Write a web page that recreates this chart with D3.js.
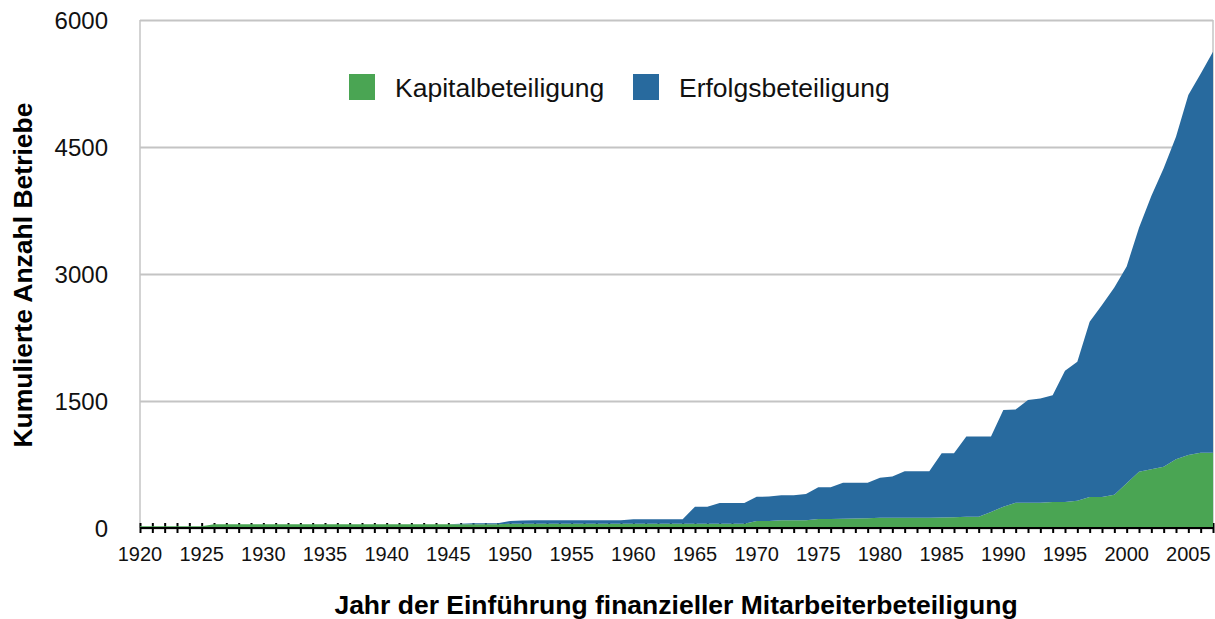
<!DOCTYPE html>
<html>
<head>
<meta charset="utf-8">
<script src="https://cdn.jsdelivr.net/npm/d3@7"></script>
<style>
  body { margin: 0; background: #fff; }
  svg text { font-family: "Liberation Sans", Helvetica, Arial, sans-serif; }
</style>
</head>
<body>
<div id="chart"></div>
<script>
// Kumulierte Anzahl Betriebe mit finanzieller Mitarbeiterbeteiligung, 1920-2007

const years = [
    1920, 1921, 1922, 1923, 1924, 1925, 1926, 1927, 1928, 1929,
    1930, 1931, 1932, 1933, 1934, 1935, 1936, 1937, 1938, 1939,
    1940, 1941, 1942, 1943, 1944, 1945, 1946, 1947, 1948, 1949,
    1950, 1951, 1952, 1953, 1954, 1955, 1956, 1957, 1958, 1959,
    1960, 1961, 1962, 1963, 1964, 1965, 1966, 1967, 1968, 1969,
    1970, 1971, 1972, 1973, 1974, 1975, 1976, 1977, 1978, 1979,
    1980, 1981, 1982, 1983, 1984, 1985, 1986, 1987, 1988, 1989,
    1990, 1991, 1992, 1993, 1994, 1995, 1996, 1997, 1998, 1999,
    2000, 2001, 2002, 2003, 2004, 2005, 2006, 2007
];

// Kapitalbeteiligung (green, bottom layer)
const kapital = [
    20, 20, 20, 20, 20, 20, 45, 45, 45, 45,
    45, 45, 45, 45, 45, 45, 45, 45, 45, 45,
    45, 45, 45, 45, 45, 45, 45, 45, 45, 45,
    50, 50, 50, 50, 50, 50, 50, 50, 50, 50,
    50, 50, 50, 50, 50, 50, 50, 50, 50, 50,
    83, 83, 91, 91, 93, 106, 106, 110, 112, 114,
    120, 122, 122, 122, 122, 125, 128, 133, 133, 190,
    252, 299, 299, 299, 307, 307, 323, 366, 366, 393,
    528, 665, 693, 724, 811, 862, 889, 889
];

// Erfolgsbeteiligung (blue, stacked on top)
const erfolg = [
    0, 0, 0, 0, 0, 0, 0, 0, 0, 0,
    0, 0, 0, 0, 0, 0, 0, 0, 0, 0,
    0, 0, 0, 0, 0, 0, 5, 10, 10, 10,
    32, 38, 42, 42, 42, 42, 42, 42, 42, 42,
    54, 54, 54, 54, 54, 202, 202, 246, 246, 246,
    285, 289, 295, 297, 309, 376, 376, 423, 421, 419,
    474, 486, 549, 549, 549, 757, 754, 949, 949, 892,
    1141, 1102, 1213, 1230, 1260, 1551, 1641, 2071, 2268, 2447,
    2562, 2880, 3227, 3524, 3810, 4252, 4476, 4736
];

const seriesNames = ['Kapitalbeteiligung', 'Erfolgsbeteiligung'];
const seriesColors = ['#4aa553', '#286a9e'];

const yTicks = [0, 1500, 3000, 4500, 6000];
const xLabelYears = [1920, 1925, 1930, 1935, 1940, 1945, 1950, 1955, 1960, 1965,
    1970, 1975, 1980, 1985, 1990, 1995, 2000, 2005];

const width = 1215;
const height = 619;
const margin = { left: 140, right: 2, top: 20, bottom: 91 };
const plotW = width - margin.left - margin.right;
const plotH = height - margin.top - margin.bottom;

// Build rows for d3.stack
const rows = years.map((year, i) => ({
    year: year,
    Kapitalbeteiligung: kapital[i],
    Erfolgsbeteiligung: erfolg[i]
}));

const svg = d3.select('#chart')
    .append('svg')
    .attr('width', width)
    .attr('height', height);

const g = svg.append('g')
    .attr('transform', `translate(${margin.left},${margin.top})`);

const xScale = d3.scaleLinear()
    .domain([years[0], years[years.length - 1]])
    .range([0, plotW]);

const yScale = d3.scaleLinear()
    .domain([0, 6000])
    .range([plotH, 0]);

// Gridlines (horizontal) via left axis
const yGrid = g.append('g')
    .attr('class', 'y-grid')
    .call(d3.axisLeft(yScale).tickValues(yTicks).tickSize(-plotW).tickFormat(''));
yGrid.select('.domain').remove();
yGrid.selectAll('line')
    .attr('stroke', '#c4c4c4')
    .attr('stroke-width', 2);

// Frame lines left / right
g.append('line')
    .attr('x1', 0).attr('x2', 0)
    .attr('y1', 0).attr('y2', plotH)
    .attr('stroke', '#c4c4c4')
    .attr('stroke-width', 1.5);
g.append('line')
    .attr('x1', plotW).attr('x2', plotW)
    .attr('y1', 0).attr('y2', plotH)
    .attr('stroke', '#c4c4c4')
    .attr('stroke-width', 1.5);

// Year ticks (drawn under the areas)
const xAxis = g.append('g')
    .attr('class', 'x-axis')
    .attr('transform', `translate(0,${plotH})`)
    .call(d3.axisBottom(xScale)
        .tickValues(years)
        .tickSizeInner(5)
        .tickSizeOuter(0)
        .tickFormat(''));
xAxis.select('.domain').remove();
xAxis.selectAll('.tick line')
    .attr('y1', -5)
    .attr('y2', 5)
    .attr('stroke', '#000')
    .attr('stroke-width', 2);

// Stacked areas
const stack = d3.stack().keys(seriesNames);
const layers = stack(rows);

const area = d3.area()
    .x(d => xScale(d.data.year))
    .y0(d => yScale(d[0]))
    .y1(d => yScale(d[1]))
    .curve(d3.curveLinear);

g.selectAll('.layer')
    .data(layers)
    .enter()
    .append('path')
    .attr('class', 'layer')
    .attr('fill', (d, i) => seriesColors[i])
    .attr('d', area);

// Axis baseline on top
g.append('line')
    .attr('x1', 0).attr('x2', plotW)
    .attr('y1', plotH).attr('y2', plotH)
    .attr('stroke', '#000')
    .attr('stroke-width', 2);

// X labels every 5 years
g.selectAll('.x-label')
    .data(xLabelYears)
    .enter()
    .append('text')
    .attr('class', 'x-label')
    .attr('x', d => xScale(d))
    .attr('y', plotH + 33)
    .attr('text-anchor', 'middle')
    .attr('font-size', '20px')
    .attr('fill', '#111')
    .text(d => d);

// Y labels
g.selectAll('.y-label')
    .data(yTicks)
    .enter()
    .append('text')
    .attr('class', 'y-label')
    .attr('x', -32)
    .attr('y', d => yScale(d))
    .attr('dy', '0.36em')
    .attr('text-anchor', 'end')
    .attr('font-size', '24px')
    .attr('fill', '#111')
    .text(d => d);

// Axis titles
svg.append('text')
    .attr('transform', `translate(32,275) rotate(-90)`)
    .attr('text-anchor', 'middle')
    .attr('font-size', '26.5px')
    .attr('font-weight', 'bold')
    .attr('fill', '#000')
    .text('Kumulierte Anzahl Betriebe');

svg.append('text')
    .attr('x', 676)
    .attr('y', 614)
    .attr('text-anchor', 'middle')
    .attr('font-size', '26.5px')
    .attr('font-weight', 'bold')
    .attr('fill', '#000')
    .text('Jahr der Einführung finanzieller Mitarbeiterbeteiligung');

// Legend
const legendItems = [
    { name: seriesNames[0], color: seriesColors[0], x: 349 },
    { name: seriesNames[1], color: seriesColors[1], x: 633 }
];
const legend = svg.append('g').attr('class', 'legend');
legendItems.forEach(item => {
    legend.append('rect')
        .attr('x', item.x)
        .attr('y', 74)
        .attr('width', 26)
        .attr('height', 26)
        .attr('fill', item.color);
    legend.append('text')
        .attr('x', item.x + 46)
        .attr('y', 87)
        .attr('dy', '0.36em')
        .attr('font-size', '26.5px')
        .attr('fill', '#111')
        .text(item.name);
});
</script>
</body>
</html>
